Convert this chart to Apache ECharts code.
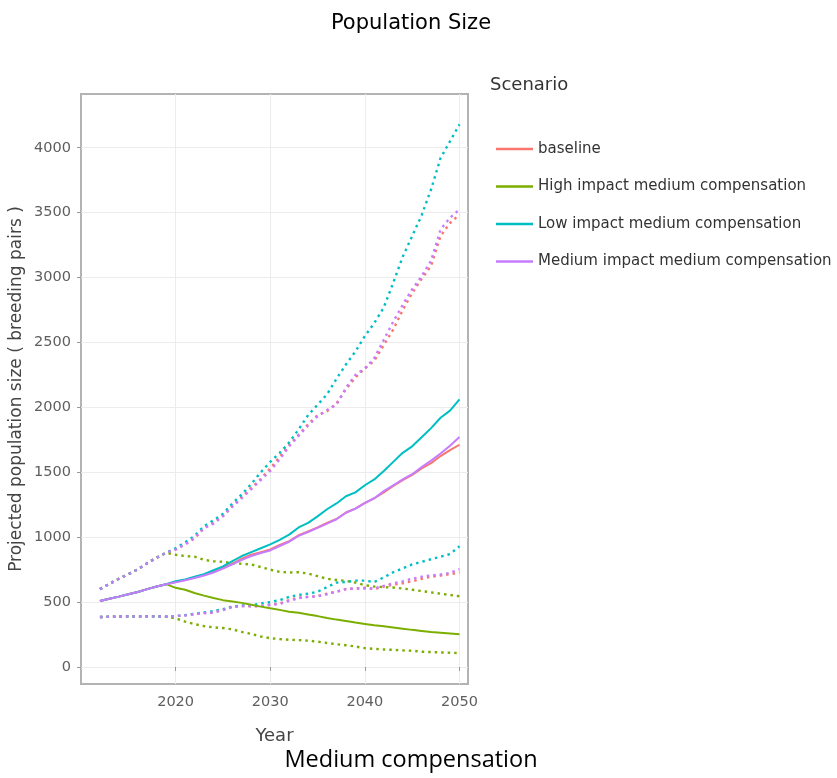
<!DOCTYPE html>
<html>
<head>
<meta charset="utf-8">
<script src="https://cdn.jsdelivr.net/npm/echarts@6/dist/echarts.min.js"></script>
<style>html,body{margin:0;padding:0;background:#fff}#chart{width:837px;height:778px}</style>
</head>
<body>
<div id="chart"></div>
<script>
// ---- Data ----
var years = [2012,2013,2014,2015,2016,2017,2018,2019,2020,2021,2022,2023,2024,2025,2026,2027,2028,2029,2030,2031,2032,2033,2034,2035,2036,2037,2038,2039,2040,2041,2042,2043,2044,2045,2046,2047,2048,2049,2050];
var scenarios = ["baseline","High impact medium compensation","Low impact medium compensation","Medium impact medium compensation"];
var xTicks = [2020,2030,2040,2050];
var yTicks = [0,500,1000,1500,2000,2500,3000,3500,4000];

// mean (solid)
var baselineMean = [508,525,542,560,578,600,620,638,655,670,690,712,735,765,795,835,865,885,905,940,970,1015,1045,1075,1110,1140,1190,1220,1265,1300,1345,1395,1440,1480,1530,1570,1625,1670,1712];
var highMean     = [508,525,542,560,578,600,620,638,610,595,570,550,532,515,505,494,480,465,452,440,425,418,405,392,378,365,355,342,332,322,313,304,295,286,278,270,264,258,252];
var lowMean      = [508,525,542,560,578,600,620,638,660,675,695,715,745,775,815,855,885,915,945,980,1020,1075,1110,1160,1215,1260,1315,1345,1400,1445,1510,1580,1650,1700,1770,1840,1920,1975,2062];
var mediumMean   = [508,525,542,560,578,600,620,638,652,668,685,705,728,758,790,825,855,878,898,932,965,1010,1040,1072,1105,1138,1188,1220,1262,1300,1355,1400,1445,1485,1540,1590,1645,1705,1772];

// upper bound (dotted)
var baselineUpper = [600,640,680,715,752,800,842,880,905,945,990,1070,1110,1165,1240,1310,1380,1450,1530,1620,1710,1790,1870,1940,1970,2030,2140,2230,2300,2360,2480,2600,2750,2880,2990,3090,3320,3420,3485];
var highUpper     = [600,640,680,715,752,800,842,880,865,855,850,825,815,810,800,795,790,770,750,733,728,730,720,700,680,670,664,650,630,620,615,612,605,595,585,575,565,555,545];
var lowUpper      = [600,640,680,715,752,800,842,880,915,960,1010,1085,1130,1180,1260,1330,1410,1500,1580,1650,1730,1830,1940,2020,2100,2220,2330,2430,2550,2650,2770,2960,3160,3320,3480,3680,3920,4050,4180];
var mediumUpper   = [600,640,680,715,752,800,842,880,905,945,995,1070,1105,1160,1235,1300,1370,1440,1510,1600,1700,1780,1860,1930,1980,2020,2150,2250,2300,2380,2520,2660,2790,2910,3010,3130,3370,3460,3525];

// lower bound (dotted)
var baselineLower = [385,387,389,390,390,390,390,388,392,398,408,415,420,440,465,470,468,470,480,490,515,535,540,545,565,580,600,605,610,600,620,635,645,660,680,695,705,715,728];
var highLower     = [385,387,389,390,390,390,390,388,375,350,330,315,305,300,290,270,255,235,222,215,210,207,203,195,185,175,168,158,145,140,135,132,128,125,118,115,112,110,107];
var lowLower      = [385,387,389,390,390,390,390,388,392,400,410,420,430,445,465,475,475,490,500,515,540,555,565,580,615,650,655,665,665,655,690,730,760,790,810,830,850,870,930];
var mediumLower   = [385,387,389,390,390,390,390,388,392,398,408,415,420,438,462,470,468,468,478,485,510,530,540,545,560,580,600,605,605,605,625,645,660,680,695,705,712,725,754];

// ---- Chart ----
var colors = ["#F8766D","#7CAE00","#00BFC4","#C77CFF"];
var means = [baselineMean, highMean, lowMean, mediumMean];
var uppers = [baselineUpper, highUpper, lowUpper, mediumUpper];
var lowers = [baselineLower, highLower, lowLower, mediumLower];

function pairs(arr){ return years.map(function(y,i){ return [y, arr[i]]; }); }

var series = [];
scenarios.forEach(function(name,i){
  series.push({name:name,type:'line',data:pairs(means[i]),showSymbol:false,symbol:'none',
    lineStyle:{color:colors[i],width:2},itemStyle:{color:colors[i]},z:3});
});
scenarios.forEach(function(name,i){
  series.push({name:name+' (upper)',type:'line',data:pairs(uppers[i]),showSymbol:false,symbol:'none',
    lineStyle:{color:colors[i],width:2.4,type:[2.5,4]},itemStyle:{color:colors[i]},z:2});
});
scenarios.forEach(function(name,i){
  series.push({name:name+' (lower)',type:'line',data:pairs(lowers[i]),showSymbol:false,symbol:'none',
    lineStyle:{color:colors[i],width:2.4,type:[2.5,4]},itemStyle:{color:colors[i]},z:2});
});

var font = "'DejaVu Sans', Verdana, sans-serif";
var plain = function(v){ return String(v); };
var chart = echarts.init(document.getElementById('chart'), null, {renderer:'canvas'});
chart.setOption({
  animation:false,
  backgroundColor:'#ffffff',
  title:[
    {text:'Population Size',left:406,top:8,textAlign:'center',textStyle:{fontFamily:font,fontSize:21,fontWeight:'normal',color:'#000'}},
    {text:'Scenario',left:485,top:71,textStyle:{fontFamily:font,fontSize:18,fontWeight:'normal',color:'#333'}},
    {text:'Medium compensation',left:406,top:743,textAlign:'center',textStyle:{fontFamily:"'Open Sans', sans-serif",fontSize:23.5,fontWeight:'normal',color:'#000'}}
  ],
  legend:{
    orient:'vertical',left:491,top:134,
    data:scenarios,
    icon:'rect',itemWidth:37,itemHeight:2.5,itemGap:17.5,
    textStyle:{fontFamily:font,fontSize:15,color:'#333',lineHeight:20,padding:[0,0,0,0]},
    selectedMode:false
  },
  grid:{left:81,top:94,width:387,height:590,show:true,borderColor:'#b3b3b3',borderWidth:2,containLabel:false},
  xAxis:{
    type:'value',min:2010,max:2050.9,
    name:'Year',nameLocation:'middle',nameGap:43,
    nameTextStyle:{fontFamily:font,fontSize:18,color:'#444'},
    axisLine:{show:false},
    axisTick:{show:true,length:4,lineStyle:{color:'#999'},customValues:xTicks},
    axisLabel:{fontFamily:font,fontSize:14.5,color:'#5e5e5e',margin:11,customValues:xTicks,formatter:plain},
    splitLine:{show:true,lineStyle:{color:'#ececec',width:1}}
  },
  yAxis:{
    type:'value',min:-131,max:4414,
    name:'Projected population size ( breeding pairs )',nameLocation:'middle',nameGap:56,nameRotate:90,
    nameTextStyle:{fontFamily:font,fontSize:17,color:'#444'},
    axisLine:{show:false},
    axisTick:{show:true,length:4,lineStyle:{color:'#999'},customValues:yTicks},
    axisLabel:{fontFamily:font,fontSize:14.5,color:'#5e5e5e',margin:10,customValues:yTicks,formatter:plain},
    splitLine:{show:true,lineStyle:{color:'#ececec',width:1}}
  },
  series:series
});
</script>
</body>
</html>
